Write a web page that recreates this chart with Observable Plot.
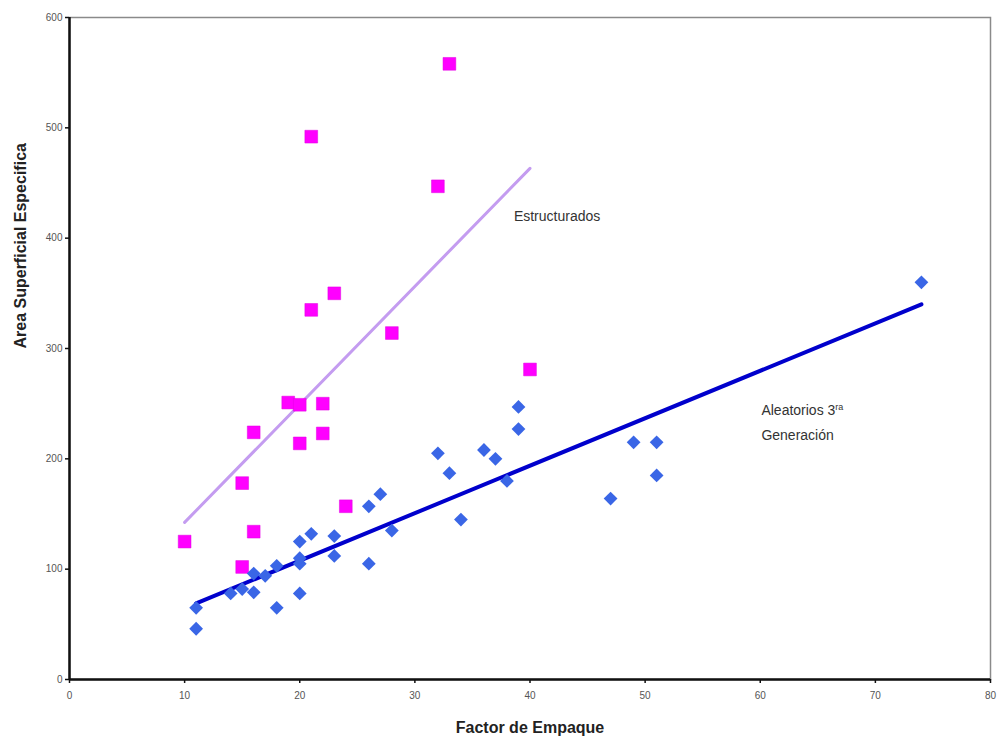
<!DOCTYPE html>
<html>
<head>
<meta charset="utf-8">
<script src="https://cdn.jsdelivr.net/npm/d3@7"></script>
<script src="https://cdn.jsdelivr.net/npm/@observablehq/plot@0.6"></script>
<style>
  html, body { margin: 0; padding: 0; background: #fff; }
  #chart { width: 998px; height: 742px; }
</style>
</head>
<body>
<div id="chart"></div>
<script>
// Estructurados (pink squares)
const estX = [10, 15, 15, 16, 16, 19, 20, 20, 21, 21, 22, 22, 23, 24, 28, 32, 33, 40];
const estY = [125, 178, 102, 224, 134, 251, 249, 214, 492, 335, 250, 223, 350, 157, 314, 447, 558, 281];

// Aleatorios 3ra Generación (blue diamonds)
const aleX = [11, 11, 14, 15, 16, 16, 17, 18, 18, 20, 20, 20, 20, 21, 23, 23, 26, 26, 27, 28, 32, 33, 34, 36, 37, 38, 39, 39, 47, 49, 51, 51, 74];
const aleY = [65, 46, 78, 82, 79, 96, 94, 103, 65, 78, 105, 110, 125, 132, 130, 112, 105, 157, 168, 135, 205, 187, 145, 208, 200, 180, 227, 247, 164, 215, 215, 185, 360];

const xTicks = [0, 10, 20, 30, 40, 50, 60, 70, 80];
const yTicks = [0, 100, 200, 300, 400, 500, 600];

const labelText = ["Estructurados", "Aleatorios 3ra", "Generación"];
const labelX = [38.6, 60.1, 60.1];
const labelY = [420, 244, 221];

const est = estX.map((x, i) => ({x, y: estY[i]}));
const ale = aleX.map((x, i) => ({x, y: aleY[i]}));
const labels = labelText.map((t, i) => ({t, x: labelX[i], y: labelY[i]}));

const font = "Liberation Sans, Arial, sans-serif";

const chart = Plot.plot({
  width: 998,
  height: 742,
  marginLeft: 69,
  marginRight: 8,
  marginTop: 17,
  marginBottom: 63,
  style: {fontFamily: font, background: "#fff"},
  x: {domain: [0, 80]},
  y: {domain: [0, 600]},
  marks: [
    Plot.frame({stroke: "#8a8a8a", strokeWidth: 1.5}),
    Plot.axisX({ticks: xTicks, tickSize: 4, tickPadding: 8, fontSize: 10, color: "#555", label: null, stroke: "#111", strokeWidth: 1.5}),
    Plot.axisY({ticks: yTicks, tickSize: 4, tickPadding: 3, fontSize: 10, color: "#555", label: null, stroke: "#111", strokeWidth: 1.5}),
    Plot.ruleX([0], {stroke: "#111", strokeWidth: 2.5}),
    Plot.ruleY([0], {stroke: "#111", strokeWidth: 2.5}),
    Plot.linearRegressionY(est, {x: "x", y: "y", stroke: "#c49cf0", strokeWidth: 3, ci: 0}),
    Plot.linearRegressionY(ale, {x: "x", y: "y", stroke: "#0000cc", strokeWidth: 4, ci: 0}),
    Plot.dot(est, {x: "x", y: "y", symbol: "square", r: 7.2, fill: "#ff00ff", stroke: "#e000e0", strokeWidth: 0.5}),
    Plot.dot(ale, {x: "x", y: "y", symbol: "diamond2", r: 6.2, fill: "#3a66e6"}),
    Plot.text(labels, {x: "x", y: "y", text: "t", textAnchor: "start", fontSize: 14, fill: "#333", className: "annot"}),
    Plot.text(["Factor de Empaque"], {frameAnchor: "bottom", dy: 53, fontSize: 16, fontWeight: "bold", fill: "#222"}),
    Plot.text(["Area Superficial Especifica"], {frameAnchor: "left", dx: -49, rotate: -90, fontSize: 16, fontWeight: "bold", fill: "#222"})
  ]
});

// render the superscript "ra" in "Aleatorios 3ra"
d3.select(chart).selectAll("g.annot text").each(function() {
  const el = d3.select(this);
  if (el.text() === "Aleatorios 3ra") {
    el.text("Aleatorios 3");
    el.append("tspan").attr("dy", "-0.5em").attr("font-size", "9").text("ra");
  }
});

document.getElementById("chart").appendChild(chart);
</script>
</body>
</html>
